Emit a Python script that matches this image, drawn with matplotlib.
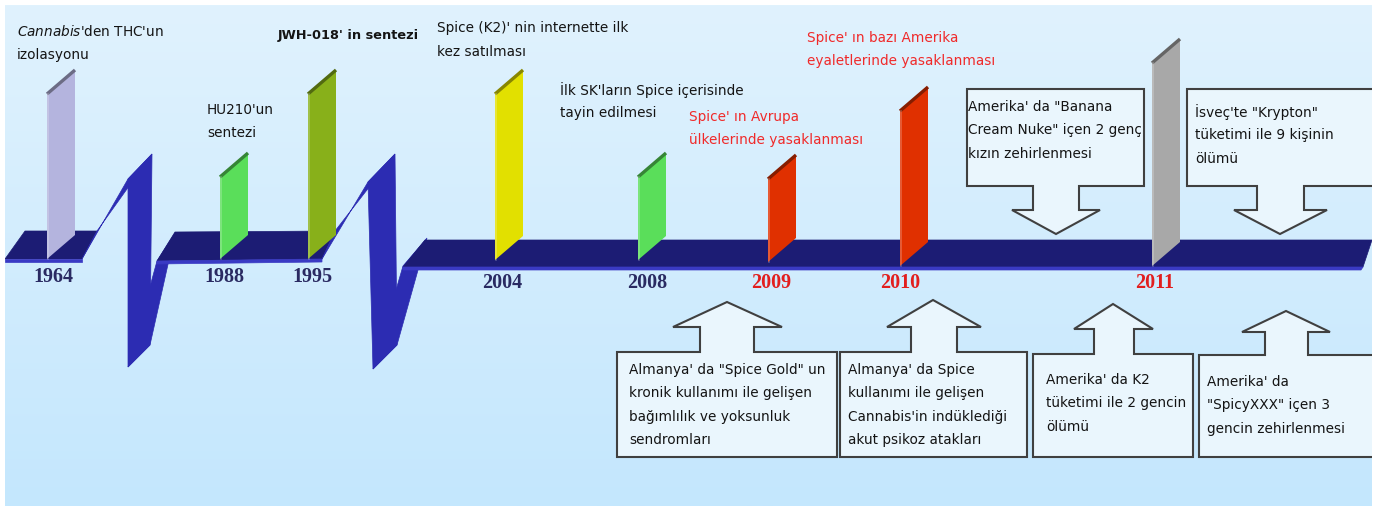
import numpy as np
import matplotlib.pyplot as plt
from matplotlib.patches import Polygon, Rectangle
from matplotlib.colors import to_rgb

plt.rcParams["mathtext.fontset"] = "dejavusans"

# ---- timeline data ----
years = ["1964", "1988", "1995", "2004", "2008", "2009", "2010", "2011"]
bar_colors = ["#b4b4de", "#5ade5a", "#88b01a", "#e2e000",
              "#5ade5a", "#e03000", "#e03000", "#a8a8a8"]
year_colors = ["#2a2a62"] * 5 + ["#e21e1e"] * 3

top_labels = [
    ["$\\mathit{Cannabis}$'den THC'un", "izolasyonu"],
    ["HU210'un", "sentezi"],
    ["JWH-018' in sentezi"],
    ["Spice (K2)' nin internette ilk", "kez satılması"],
    ["İlk SK'ların Spice içerisinde", "tayin edilmesi"],
    ["Spice' ın Avrupa", "ülkelerinde yasaklanması"],
    ["Spice' ın bazı Amerika", "eyaletlerinde yasaklanması"],
]
top_label_colors = ["#141414"] * 5 + ["#f02a2a"] * 2
top_label_bold = [False, False, True, False, False, False, False]

box_texts = [
    ["Amerika' da \"Banana", "Cream Nuke\" içen 2 genç", "kızın zehirlenmesi"],
    ["İsveç'te \"Krypton\"", "tüketimi ile 9 kişinin", "ölümü"],
    ["Almanya' da \"Spice Gold\" un", "kronik kullanımı ile gelişen",
     "bağımlılık ve yoksunluk", "sendromları"],
    ["Almanya' da Spice", "kullanımı ile gelişen",
     "Cannabis'in indüklediği", "akut psikoz atakları"],
    ["Amerika' da K2", "tüketimi ile 2 gencin", "ölümü"],
    ["Amerika' da", "\"SpicyXXX\" içen 3", "gencin zehirlenmesi"],
]

# ---- layout (pixel coordinates) ----
bar_x = [47, 220, 308, 495, 638, 768, 900, 1152]
bar_top = [95, 178, 95, 95, 178, 180, 112, 64]
bar_base = [260, 260, 260, 261, 261, 263, 267, 267]
bar_w, bar_slant = 28, 24
year_x = [53, 224, 312, 502, 647, 771, 900, 1155]
year_y = [277, 277, 277, 283, 283, 283, 283, 283]

top_label_xy = [(17, 32), (207, 110), (278, 35), (437, 28),
                (560, 90), (689, 117), (807, 38)]
line_step = 23.5

# L, R, T, B, shaft L, shaft R, head L, head R, head y, tip x, tip y, down?
boxes = [
    (967, 1144, 90, 187, 1033, 1079, 1012, 1100, 211, 1056, 235, True),
    (1187, 1400, 90, 187, 1257, 1304, 1234, 1327, 211, 1280, 235, True),
    (617, 837, 353, 458, 700, 754, 673, 782, 328, 727, 303, False),
    (840, 1027, 353, 458, 911, 957, 887, 981, 328, 933, 301, False),
    (1033, 1193, 355, 458, 1094, 1134, 1074, 1153, 330, 1113, 305, False),
    (1199, 1400, 356, 458, 1265, 1308, 1242, 1330, 333, 1286, 312, False),
]
box_text_xy = [(968, 107), (1195, 112), (629, 370), (848, 370),
               (1046, 380), (1207, 382)]

navy, mid_blue, lip = "#1c1c74", "#2c2cb2", "#3a3ac4"
ribbon = [
    ([(5, 260), (82, 260), (97, 232), (25, 232)], navy),
    ([(82, 260), (128, 180), (152, 155), (97, 232)], mid_blue),
    ([(128, 180), (152, 155), (150, 346), (128, 368)], mid_blue),
    ([(128, 368), (150, 346), (175, 234), (157, 262)], mid_blue),
    ([(157, 262), (322, 260), (335, 232), (175, 233)], navy),
    ([(322, 260), (368, 183), (395, 155), (335, 232)], mid_blue),
    ([(368, 183), (395, 155), (397, 346), (373, 370)], mid_blue),
    ([(373, 370), (397, 346), (427, 239), (403, 267)], mid_blue),
    ([(403, 268), (1363, 268), (1372, 241), (425, 241)], navy),
    ([(5, 260), (82, 260), (82, 263), (5, 263)], lip),
    ([(157, 262), (322, 260), (322, 263), (157, 265)], lip),
    ([(403, 268), (1363, 268), (1361, 271), (403, 271)], lip),
]

fig = plt.figure(figsize=(13.78, 5.10), dpi=100)
ax = fig.add_axes([0, 0, 1, 1])
ax.set_xlim(0, 1378)
ax.set_ylim(510, 0)
ax.axis("off")

# background gradient
grad = np.linspace(0, 1, 256)[:, None]
top_c = np.array([0xe0, 0xf2, 0xfd]) / 255
bot_c = np.array([0xc4, 0xe7, 0xfe]) / 255
img = top_c[None, None, :] * (1 - grad[..., None]) + bot_c[None, None, :] * grad[..., None]
ax.imshow(img, extent=[5, 1372, 507, 6], aspect="auto", zorder=0)

for pts, col in ribbon:
    ax.add_patch(Polygon(pts, closed=True, facecolor=col, edgecolor=col,
                         lw=0.5, zorder=2))

# event panels
for x, top, base, col in zip(bar_x, bar_top, bar_base, bar_colors):
    pts = [(x, top), (x + bar_w, top - bar_slant),
           (x + bar_w, base - bar_slant), (x, base)]
    ax.add_patch(Polygon(pts, closed=True, facecolor=col, edgecolor="none",
                         zorder=3))
    edge = tuple(c * 0.6 for c in to_rgb(col))
    ax.plot([x, x + bar_w], [top, top - bar_slant], color=edge,
            lw=2.4, zorder=4, solid_capstyle="butt")
    ax.plot([x + 1, x + 1], [top, base], color="white", lw=1.2,
            alpha=0.25, zorder=4)

for yr, x, y, col in zip(years, year_x, year_y, year_colors):
    ax.text(x, y, yr, color=col, fontsize=14.5, fontweight="bold",
            family="Liberation Serif", ha="center", va="center", zorder=5)

for lines, (x, y), col, bold in zip(top_labels, top_label_xy,
                                    top_label_colors, top_label_bold):
    for i, line in enumerate(lines):
        ax.text(x, y + i * line_step, line, color=col,
                fontsize=9.3 if bold else 9.8,
                fontweight="bold" if bold else "normal",
                ha="left", va="center", zorder=5)

# callout boxes with arrows
for (L, R, T, B, sL, sR, hL, hR, hy, tx, ty, down) in boxes:
    if down:
        pts = [(L, T), (R, T), (R, B), (sR, B), (sR, hy), (hR, hy),
               (tx, ty), (hL, hy), (sL, hy), (sL, B), (L, B)]
    else:
        pts = [(L, B), (R, B), (R, T), (sR, T), (sR, hy), (hR, hy),
               (tx, ty), (hL, hy), (sL, hy), (sL, T), (L, T)]
    ax.add_patch(Polygon(pts, closed=True, facecolor="#eaf6fd",
                         edgecolor="#404040", lw=1.5, zorder=6))

for lines, (x, y) in zip(box_texts, box_text_xy):
    for i, line in enumerate(lines):
        ax.text(x, y + i * line_step, line, color="#141414", fontsize=9.8,
                ha="left", va="center", zorder=7)

# white frame around the picture
for rect in [(0, 0, 1378, 6), (0, 0, 5, 510), (1372, 0, 10, 510),
             (0, 507, 1378, 5)]:
    ax.add_patch(Rectangle(rect[:2], rect[2], rect[3], facecolor="white",
                           edgecolor="none", zorder=10))

plt.savefig("out.png", dpi=100)
plt.close()
